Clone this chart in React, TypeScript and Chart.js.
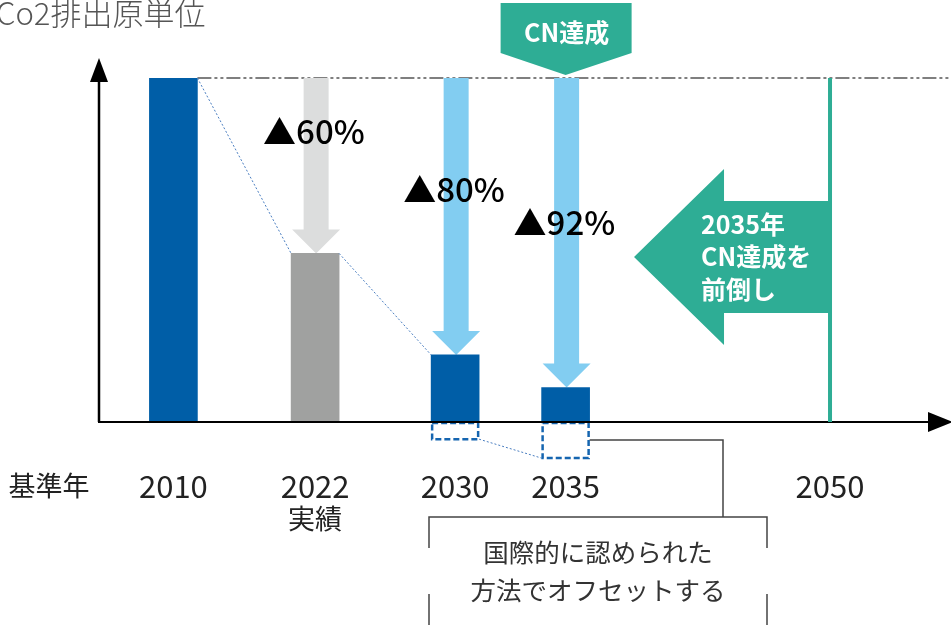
import React, { useEffect, useRef } from 'react';
import { Chart, registerables } from 'chart.js';

Chart.register(...registerables);

// ---------- data ----------
const titleText = 'Co2排出原単位';
const categories = ['2010', '2022', '2030', '2035', '2050'];
const subLabels = ['', '実績', '', '', ''];
const baseYearLabel = '基準年';
const intensity: (number | null)[] = [100, 49, 19.5, 10, null];
const offsetDepth: (number | null)[] = [null, null, -5, -10.5, null];
const reductionLabels = ['', '▲60%', '▲80%', '▲92%', ''];
const timelinePos = [2.62, 7.61, 12.54, 16.43, 25.74];
const baseYearPos = -1.76;
const cnLabel = 'CN達成';
const cnShiftLines = ['2035年', 'CN達成を', '前倒し'];
const offsetNoteLines = ['国際的に認められた', '方法でオフセットする'];

// ---------- styles ----------
const FONT = "'Noto Sans CJK JP', 'Noto Sans', sans-serif";
const BLUE = '#005EA7';
const GRAY_BAR = '#A0A1A0';
const GRAY_ARROW = '#DCDDDD';
const LIGHT_BLUE = '#82CDF1';
const TEAL = '#2EAD95';
const DASH_BLUE = '#1565B0';
const DOT_BLUE = '#4A7EC0';
const barColors = [BLUE, GRAY_BAR, BLUE, BLUE, BLUE];
const BAR_W = 48;

const overlay = {
  id: 'overlay',
  beforeDatasetsDraw(chart: any) {
    const { ctx, scales } = chart;
    const x = scales.x;
    const y = scales.y;
    const topY = y.getPixelForValue(100);
    ctx.save();
    // dash-dot reference line at base level
    ctx.strokeStyle = '#555';
    ctx.lineWidth = 1.3;
    ctx.setLineDash([14, 3, 3, 3, 3, 3]);
    ctx.beginPath();
    ctx.moveTo(x.getPixelForValue(timelinePos[0]) + BAR_W / 2, topY);
    ctx.lineTo(chart.width, topY);
    ctx.stroke();
    ctx.setLineDash([]);
    // reduction arrows
    for (let i = 1; i < 4; i++) {
      const v = intensity[i];
      if (v == null) continue;
      const cx = x.getPixelForValue(timelinePos[i]) + 1;
      const tipY = y.getPixelForValue(v);
      const head = 24;
      ctx.fillStyle = i === 1 ? GRAY_ARROW : LIGHT_BLUE;
      ctx.beginPath();
      ctx.moveTo(cx - 12.5, topY);
      ctx.lineTo(cx + 12.5, topY);
      ctx.lineTo(cx + 12.5, tipY - head);
      ctx.lineTo(cx + 24, tipY - head);
      ctx.lineTo(cx, tipY);
      ctx.lineTo(cx - 24, tipY - head);
      ctx.lineTo(cx - 12.5, tipY - head);
      ctx.closePath();
      ctx.fill();
    }
    ctx.restore();
  },
  afterDatasetsDraw(chart: any) {
    const { ctx, scales, chartArea } = chart;
    const x = scales.x;
    const y = scales.y;
    const topY = y.getPixelForValue(100);
    const zeroY = y.getPixelForValue(0);
    const px = (i: number) => x.getPixelForValue(timelinePos[i]);
    ctx.save();

    // dotted connectors between bar tops
    ctx.strokeStyle = DOT_BLUE;
    ctx.lineWidth = 1;
    ctx.setLineDash([2, 2]);
    for (let i = 0; i < 2; i++) {
      const a = intensity[i] as number;
      const b = intensity[i + 1] as number;
      ctx.beginPath();
      ctx.moveTo(px(i) + BAR_W / 2, y.getPixelForValue(a));
      ctx.lineTo(px(i + 1) - BAR_W / 2, y.getPixelForValue(b));
      ctx.stroke();
    }
    ctx.beginPath();
    ctx.moveTo(px(2) + BAR_W / 2, y.getPixelForValue(offsetDepth[2] as number));
    ctx.lineTo(px(3) - BAR_W / 2, y.getPixelForValue(offsetDepth[3] as number));
    ctx.stroke();

    // dashed offset boxes
    ctx.strokeStyle = DASH_BLUE;
    ctx.lineWidth = 2.5;
    ctx.setLineDash([6, 3]);
    for (let i = 0; i < offsetDepth.length; i++) {
      const d = offsetDepth[i];
      if (d == null) continue;
      const l = px(i) - BAR_W / 2 + 1;
      const yb = y.getPixelForValue(d);
      ctx.strokeRect(l, zeroY + 1, BAR_W - 2, yb - zeroY - 1);
    }
    ctx.setLineDash([]);

    // axes
    const axX = chartArea.left;
    ctx.strokeStyle = '#000';
    ctx.fillStyle = '#000';
    ctx.lineWidth = 2.5;
    ctx.beginPath();
    ctx.moveTo(axX, zeroY);
    ctx.lineTo(axX, topY - 4);
    ctx.stroke();
    ctx.beginPath();
    ctx.moveTo(axX, topY - 20);
    ctx.lineTo(axX + 9, topY + 4);
    ctx.lineTo(axX - 9, topY + 4);
    ctx.closePath();
    ctx.fill();
    ctx.lineWidth = 2;
    ctx.beginPath();
    ctx.moveTo(axX - 1, zeroY);
    ctx.lineTo(chart.width - 20, zeroY);
    ctx.stroke();
    ctx.beginPath();
    ctx.moveTo(chart.width + 2, zeroY);
    ctx.lineTo(chart.width - 23, zeroY - 10);
    ctx.lineTo(chart.width - 23, zeroY + 10);
    ctx.closePath();
    ctx.fill();

    // 2050 line and shift arrow
    const lx = px(4);
    ctx.strokeStyle = TEAL;
    ctx.lineWidth = 4;
    ctx.beginPath();
    ctx.moveTo(lx, topY);
    ctx.lineTo(lx, zeroY);
    ctx.stroke();
    const cy = y.getPixelForValue(48);
    ctx.fillStyle = TEAL;
    ctx.beginPath();
    ctx.moveTo(lx - 196, cy);
    ctx.lineTo(lx - 106, cy - 88);
    ctx.lineTo(lx - 106, cy - 56);
    ctx.lineTo(lx, cy - 56);
    ctx.lineTo(lx, cy + 56);
    ctx.lineTo(lx - 106, cy + 56);
    ctx.lineTo(lx - 106, cy + 88);
    ctx.closePath();
    ctx.fill();
    ctx.fillStyle = '#fff';
    ctx.font = `bold 25px ${FONT}`;
    ctx.textAlign = 'left';
    ctx.textBaseline = 'middle';
    cnShiftLines.forEach((t, k) => ctx.fillText(t, lx - 129, cy + (k - 1) * 32.5));

    // CN達成 callout
    const c3 = px(3);
    ctx.fillStyle = TEAL;
    ctx.beginPath();
    ctx.moveTo(c3 - 65, 3);
    ctx.lineTo(c3 + 66, 3);
    ctx.lineTo(c3 + 66, 53);
    ctx.lineTo(c3, topY - 3);
    ctx.lineTo(c3 - 65, 53);
    ctx.closePath();
    ctx.fill();
    ctx.fillStyle = '#fff';
    ctx.font = `bold 25px ${FONT}`;
    ctx.textAlign = 'center';
    ctx.fillText(cnLabel, c3 + 1, 32);

    // reduction labels
    const labelY = [0, 131, 189, 222];
    ctx.fillStyle = '#000';
    ctx.font = `500 33px ${FONT}`;
    ctx.textAlign = 'left';
    for (let i = 1; i < 4; i++) {
      ctx.fillText(reductionLabels[i], px(i) - 52, labelY[i]);
    }

    // category labels
    ctx.fillStyle = '#222';
    ctx.font = `400 31px ${FONT}`;
    ctx.textAlign = 'center';
    categories.forEach((c, i) => ctx.fillText(c, px(i), 486));
    ctx.font = `400 27px ${FONT}`;
    ctx.fillText(baseYearLabel, x.getPixelForValue(baseYearPos), 486);
    subLabels.forEach((s, i) => { if (s) ctx.fillText(s, px(i), 519); });

    // offset note bracket
    ctx.strokeStyle = '#444';
    ctx.lineWidth = 1.5;
    const connY = zeroY + 18;
    ctx.beginPath();
    ctx.moveTo(c3 + BAR_W / 2, connY);
    ctx.lineTo(723, connY);
    ctx.lineTo(723, 517);
    ctx.stroke();
    ctx.beginPath();
    ctx.moveTo(429, 548);
    ctx.lineTo(429, 517);
    ctx.lineTo(767, 517);
    ctx.lineTo(767, 548);
    ctx.moveTo(429, 594);
    ctx.lineTo(429, 625);
    ctx.moveTo(767, 594);
    ctx.lineTo(767, 625);
    ctx.stroke();
    ctx.fillStyle = '#333';
    ctx.font = `400 25.5px ${FONT}`;
    ctx.fillText(offsetNoteLines[0], 598, 552);
    ctx.fillText(offsetNoteLines[1], 598, 590);

    // title
    ctx.fillStyle = '#555';
    ctx.font = `300 31px ${FONT}`;
    ctx.textAlign = 'left';
    ctx.textBaseline = 'alphabetic';
    ctx.fillText(titleText, -4, 25);

    ctx.restore();
  },
};

export default function App() {
  const ref = useRef<HTMLCanvasElement | null>(null);
  useEffect(() => {
    if (!ref.current) return;
    const chart = new Chart(ref.current, {
      type: 'bar',
      data: {
        datasets: [
          {
            data: categories.map((_, i) => ({ x: timelinePos[i], y: intensity[i] })) as any,
            backgroundColor: barColors,
            barThickness: BAR_W,
            borderWidth: 0,
          },
        ],
      },
      options: {
        animation: false,
        responsive: false,
        events: [],
        layout: { padding: { left: 99, right: 0, top: 78, bottom: 203 } },
        plugins: { legend: { display: false }, tooltip: { enabled: false }, title: { display: false } },
        scales: {
          x: { type: 'linear', min: 0, max: 30, offset: false, display: false },
          y: { type: 'linear', min: 0, max: 100, display: false },
        },
      },
      plugins: [overlay],
    });
    return () => chart.destroy();
  }, []);
  return (
    <div style={{ position: 'absolute', left: 0, top: 0, width: 951, height: 625, background: '#fff' }}>
      <canvas ref={ref} width={951} height={625} style={{ display: 'block' }} />
    </div>
  );
}
